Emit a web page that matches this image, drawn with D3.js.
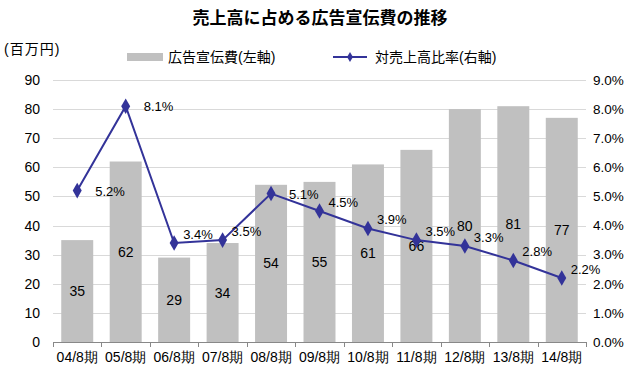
<!DOCTYPE html>
<html>
<head>
<meta charset="utf-8">
<script src="https://cdn.jsdelivr.net/npm/d3@7"></script>
<style>
body{margin:0;background:#fff;}
svg{font-family:"Liberation Sans","Noto Sans CJK JP",sans-serif;}
</style>
</head>
<body>
<div id="chart"></div>
<script>
var categories=['04/8期','05/8期','06/8期','07/8期','08/8期','09/8期','10/8期','11/8期','12/8期','13/8期','14/8期'];
var adCost=[35,62,29,34,54,55,61,66,80,81,77];// 百万円
var ratio=[5.2,8.1,3.4,3.5,5.1,4.5,3.9,3.5,3.3,2.8,2.2];// %
var leftTicks=[0,10,20,30,40,50,60,70,80,90];
var rightTicks=[0,1,2,3,4,5,6,7,8,9];

var width=632,height=372;
var plotLeft=53,plotRight=586,plotTop=80,plotBottom=342; // "top" is taken by window
var lineColor="#333399", barColor="#c0c0c0";

var svg=d3.select("#chart").append("svg")
    .attr("width",width)
    .attr("height",height);

var x=d3.scaleBand().domain(categories).range([plotLeft,plotRight]).paddingInner(0.34).paddingOuter(0.17);
var y=d3.scaleLinear().domain([0,90]).range([plotBottom,plotTop]);
var y2=d3.scaleLinear().domain([0,9]).range([plotBottom,plotTop]);

// title
svg.append("text")
    .attr("x",320).attr("y",24)
    .attr("text-anchor","middle")
    .attr("font-size","17px")
    .attr("font-weight","bold")
    .text("売上高に占める広告宣伝費の推移");

svg.append("text")
    .attr("x",4).attr("y",54)
    .attr("font-size","14px")
    .attr("letter-spacing","1px")
    .text("(百万円)");

// legend
svg.append("rect").attr("x",127).attr("y",53).attr("width",36).attr("height",8).attr("fill",barColor);
svg.append("text").attr("x",168).attr("y",62).attr("font-size","14px").text("広告宣伝費(左軸)");
svg.append("line").attr("x1",333).attr("x2",367).attr("y1",57).attr("y2",57).attr("stroke",lineColor).attr("stroke-width",2);
svg.append("path").attr("d",d3.symbol(d3.symbolDiamond,30)).attr("transform","translate(350,57)").attr("fill",lineColor);
svg.append("text").attr("x",375).attr("y",62).attr("font-size","14px").text("対売上高比率(右軸)");

// gridlines
svg.append("g").selectAll("line")
    .data(leftTicks.slice(1))
  .enter().append("line")
    .attr("x1",plotLeft).attr("x2",plotRight)
    .attr("y1",function(d){return Math.round(y(d))+0.5;})
    .attr("y2",function(d){return Math.round(y(d))+0.5;})
    .attr("stroke","#d9d9d9");

// left axis labels
var yAxis=d3.axisLeft(y).tickValues(leftTicks).tickSize(0).tickPadding(0);
var gl=svg.append("g").attr("transform","translate(40,0)").call(yAxis);
gl.select(".domain").remove();
gl.selectAll("text").attr("font-size","14px").attr("font-family",null).attr("fill","#000");

// right axis labels
var y2Axis=d3.axisRight(y2).tickValues(rightTicks).tickSize(0).tickPadding(0)
    .tickFormat(function(d){return d.toFixed(1)+"%";});
var gr=svg.append("g").attr("transform","translate(593,0)").call(y2Axis);
gr.select(".domain").remove();
gr.selectAll("text").attr("font-size","13.5px").attr("font-family",null).attr("fill","#000");

// bars
svg.append("g").selectAll("rect")
    .data(adCost)
  .enter().append("rect")
    .attr("x",function(d,i){return x(categories[i]);})
    .attr("y",function(d){return y(d);})
    .attr("width",x.bandwidth())
    .attr("height",function(d){return plotBottom-y(d);})
    .attr("fill",barColor);

// bar labels
svg.append("g").selectAll("text")
    .data(adCost)
  .enter().append("text")
    .attr("x",function(d,i){return x(categories[i])+x.bandwidth()/2;})
    .attr("y",function(d){return (y(d)+plotBottom)/2+5;})
    .attr("text-anchor","middle")
    .attr("font-size","14px")
    .text(function(d){return d;});

// x axis
var xAxis=d3.axisBottom(x).tickSize(0).tickPadding(10);
var gx=svg.append("g").attr("transform","translate(0,"+plotBottom+")").call(xAxis);
gx.select(".domain").attr("stroke","#888").attr("d","M"+plotLeft+",0.5H"+plotRight);
gx.selectAll("text").attr("font-size","14px").attr("font-family",null).attr("fill","#000");
var step=x.step();
gx.selectAll(".sep").data(d3.range(categories.length+1))
  .enter().append("line")
    .attr("x1",function(i){return Math.round(plotLeft+i*step)+0.5;})
    .attr("x2",function(i){return Math.round(plotLeft+i*step)+0.5;})
    .attr("y1",0).attr("y2",5)
    .attr("stroke","#888");

// ratio line
var cx=function(d,i){return x(categories[i])+x.bandwidth()/2;};
var line=d3.line().x(cx).y(function(d){return y2(d);});
svg.append("path")
    .datum(ratio)
    .attr("d",line)
    .attr("fill","none")
    .attr("stroke",lineColor)
    .attr("stroke-width",2);

svg.append("g").selectAll("path")
    .data(ratio)
  .enter().append("path")
    .attr("d",d3.symbol(d3.symbolDiamond,70))
    .attr("transform",function(d,i){return "translate("+cx(d,i)+","+y2(d)+")";})
    .attr("fill",lineColor);

// ratio labels
svg.append("g").selectAll("text")
    .data(ratio)
  .enter().append("text")
    .attr("x",function(d,i){return cx(d,i)+(i<2||i==4?18:9);})
    .attr("y",function(d,i){return y2(d)+(i<2||i==4?5:-4);})
    .attr("font-size","13px")
    .text(function(d){return d.toFixed(1)+"%";});
</script>
</body>
</html>
